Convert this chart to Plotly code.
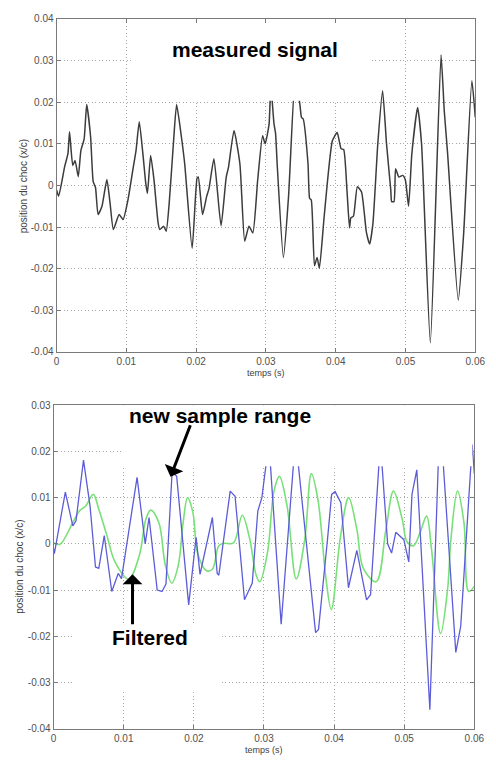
import plotly.graph_objects as go

# ---- measured shock position (full resolution) ----
t_meas = [0.0, 0.0003, 0.00116, 0.00163, 0.00186, 0.00232, 0.00265, 0.00311, 0.00349, 0.00395,
          0.00432, 0.00488, 0.00525, 0.00558, 0.00595, 0.00651, 0.00721, 0.00767, 0.00814, 0.00897,
          0.00953, 0.01023, 0.01092, 0.01139, 0.01185, 0.01241, 0.01278, 0.01302, 0.01348, 0.01395,
          0.01455, 0.01478, 0.01534, 0.01571, 0.01613, 0.01674, 0.0172, 0.0179, 0.01836, 0.01943,
          0.02013, 0.02031, 0.02092, 0.0215, 0.02185, 0.02255, 0.02357, 0.02431, 0.02464, 0.02543,
          0.02627, 0.02696, 0.02757, 0.02813, 0.02882, 0.02952, 0.02989, 0.03045, 0.0307, 0.03115,
          0.03138, 0.03161, 0.0325, 0.03324, 0.0342, 0.03487, 0.0351, 0.03533, 0.03603, 0.03626,
          0.0365, 0.03696, 0.03733, 0.03766, 0.03835, 0.03952, 0.04021, 0.04077, 0.04114, 0.04161,
          0.04198, 0.04217, 0.04254, 0.0431, 0.0437, 0.0444, 0.04486, 0.04533, 0.04603, 0.04672,
          0.04728, 0.04789, 0.04802, 0.04835, 0.04858, 0.04905, 0.0496, 0.04998, 0.05044, 0.05091,
          0.05174, 0.0523, 0.05356, 0.05509, 0.05556, 0.05602, 0.05756, 0.05834, 0.05951, 0.06]
x_meas = [-0.0011, -0.0026, 0.0045, 0.0076, 0.0129, 0.0048, 0.0060, 0.0021, 0.0084, 0.0111,
          0.0194, 0.0116, 0.0009, -0.0005, -0.0070, -0.0050, 0.0014, -0.0043, -0.0106, -0.0070,
          -0.0082, -0.0035, 0.0036, 0.0084, 0.0153, 0.0069, 0.0005, -0.0019, 0.0072, 0.0015,
          -0.0090, -0.0106, -0.0098, -0.0110, -0.0045, 0.0100, 0.0194, 0.0115, 0.0052, -0.0151,
          0.0017, 0.0020, -0.0070, -0.0027, -0.0007, 0.0064, -0.0097, 0.0020, 0.0044, 0.0132,
          0.0052, -0.0134, -0.0098, -0.0114, 0.0013, 0.0119, 0.0100, 0.0147, 0.0240, 0.0149,
          0.0125, 0.0052, -0.0173, -0.0027, 0.0260, 0.0194, 0.0163, 0.0160, 0.0052, -0.0031,
          -0.0035, -0.0193, -0.0173, -0.0199, -0.0074, 0.0107, 0.0127, 0.0088, 0.0086, -0.0011,
          -0.0102, -0.0078, -0.0074, -0.0003, -0.0016, -0.0113, -0.0141, -0.0092, 0.0100, 0.0227,
          0.0100, -0.0011, -0.0039, -0.0039, 0.0040, 0.0020, 0.0024, 0.0013, -0.0050, 0.0076,
          0.0187, 0.0100, -0.0378, 0.0313, 0.0178, 0.0080, -0.0276, -0.0114, 0.0251, 0.0163]

# ---- resampled signal (new sample range) ----
t_samp = [0.0, 0.0001, 0.00167, 0.00273, 0.00319, 0.00426, 0.00519, 0.00597, 0.00644, 0.00722,
          0.00829, 0.00921, 0.00968, 0.0119, 0.01306, 0.01361, 0.01477, 0.01546, 0.01602, 0.0169,
          0.01755, 0.01926, 0.02032, 0.02088, 0.02264, 0.02333, 0.02356, 0.02518, 0.02588, 0.02722,
          0.02833, 0.02912, 0.0297, 0.0307, 0.03245, 0.0345, 0.03736, 0.03778, 0.03907, 0.03965,
          0.04014, 0.04097, 0.04205, 0.04324, 0.04463, 0.0452, 0.0466, 0.04764, 0.0482, 0.0488,
          0.04995, 0.05065, 0.05111, 0.0518, 0.05366, 0.0551, 0.05736, 0.05806, 0.0597, 0.06]
x_samp = [-0.0011, -0.0021, 0.0112, 0.0039, 0.0050, 0.0181, 0.0082, -0.0050, -0.0053, 0.0018,
          -0.0103, -0.0064, -0.0075, 0.0144, 0.0000, 0.0057, -0.0100, -0.0103, -0.0087, 0.0156,
          0.0146, -0.0132, 0.0014, -0.0066, 0.0057, -0.0064, -0.0068, 0.0114, 0.0103, -0.0121,
          -0.0085, 0.0071, 0.0100, 0.0220, -0.0174, 0.0230, -0.0192, -0.0185, 0.0011, 0.0107,
          0.0113, 0.0089, -0.0095, -0.0014, -0.0121, -0.0110, 0.0220, 0.0000, -0.0020, 0.0025,
          0.0009, -0.0039, 0.0107, 0.0160, -0.0359, 0.0280, -0.0235, -0.0178, 0.0215, 0.0152]

# ---- filtered signal ----
t_filt = [0.0, 0.0009, 0.00273, 0.00366, 0.00458, 0.00565, 0.00644, 0.0076, 0.00875, 0.0107,
          0.01222, 0.01315, 0.01384, 0.0150, 0.01593, 0.01685, 0.01778, 0.01847, 0.0191, 0.01986,
          0.02056, 0.0218, 0.02264, 0.02356, 0.02426, 0.02565, 0.0269, 0.02796, 0.02889, 0.0294,
          0.03051, 0.03143, 0.0322, 0.03329, 0.0346, 0.03583, 0.03676, 0.03769, 0.03884, 0.0396,
          0.04093, 0.04208, 0.04324, 0.04417, 0.0460, 0.0474, 0.04847, 0.04972, 0.05042, 0.05134,
          0.05227, 0.0532, 0.05389, 0.05519, 0.0562, 0.05667, 0.0576, 0.05852, 0.0592, 0.06]
x_filt = [0.0002, -0.0001, 0.0046, 0.0071, 0.0082, 0.0107, 0.0075, 0.0018, -0.0039, -0.0076,
          -0.0025, 0.0053, 0.0073, 0.0046, -0.0046, -0.0085, -0.0046, 0.0046, 0.0100, 0.0068,
          -0.0022, -0.0058, -0.0055, -0.0004, 0.0001, 0.0002, 0.0062, 0.0011, -0.0068, -0.0082,
          -0.0018, 0.0114, 0.0146, 0.0082, -0.0076, 0.0011, 0.0152, 0.0096, -0.0075, -0.0142,
          0.0018, 0.0100, 0.0032, -0.0053, -0.0082, 0.0032, 0.0114, 0.0053, 0.0004, -0.0004,
          0.0025, 0.0060, -0.0011, -0.0194, -0.0096, 0.0011, 0.0114, 0.0046, -0.0103, -0.0092]

# ---- axis ticks ----
t_ticks = [0, 0.01, 0.02, 0.03, 0.04, 0.05, 0.06]
t_tick_text = ["0", "0.01", "0.02", "0.03", "0.04", "0.05", "0.06"]
pos_ticks_top = [-0.04, -0.03, -0.02, -0.01, 0, 0.01, 0.02, 0.03, 0.04]
pos_tick_text_top = ["-0.04", "-0.03", "-0.02", "-0.01", "0", "0.01", "0.02", "0.03", "0.04"]
pos_ticks_bot = [-0.04, -0.03, -0.02, -0.01, 0, 0.01, 0.02, 0.03]
pos_tick_text_bot = ["-0.04", "-0.03", "-0.02", "-0.01", "0", "0.01", "0.02", "0.03"]

FONT = "Liberation Sans, Arial, sans-serif"
AXIS_GREY = "#7a7a7a"
W, H = 496, 765

fig = go.Figure()
fig.add_trace(go.Scatter(x=t_meas, y=x_meas, mode="lines", xaxis="x", yaxis="y",
                         line=dict(color="#3c3c3c", width=1.5, shape="spline", smoothing=0.5),
                         showlegend=False))
fig.add_trace(go.Scatter(x=t_filt, y=x_filt, mode="lines", xaxis="x2", yaxis="y2",
                         line=dict(color="#78e078", width=1.6, shape="spline", smoothing=1.0),
                         showlegend=False))
fig.add_trace(go.Scatter(x=t_samp, y=x_samp, mode="lines", xaxis="x2", yaxis="y2",
                         line=dict(color="#5c5cd8", width=1.3), showlegend=False))


def axis_style(**kw):
    base = dict(
        showgrid=True, gridcolor="#a6a6a6", griddash="1px,2.5px", gridwidth=1,
        showline=True, linecolor=AXIS_GREY, linewidth=1, mirror="ticks",
        ticks="inside", ticklen=4, tickcolor=AXIS_GREY, tickwidth=1,
        tickfont=dict(family=FONT, size=10, color="#505050"),
        zeroline=False, fixedrange=True,
    )
    base.update(kw)
    return base


fig.update_layout(
    width=W, height=H, autosize=False,
    margin=dict(l=0, r=0, t=0, b=0),
    paper_bgcolor="white", plot_bgcolor="white",
    xaxis=axis_style(domain=[55 / W, 485 / W], anchor="y", range=[0, 0.06],
                     tickvals=t_ticks, ticktext=t_tick_text),
    yaxis=axis_style(domain=[414 / H, 752 / H], anchor="x", range=[-0.04, 0.04],
                     tickvals=pos_ticks_top, ticktext=pos_tick_text_top),
    xaxis2=axis_style(domain=[52 / W, 484 / W], anchor="y2", range=[0, 0.06],
                      tickvals=t_ticks, ticktext=t_tick_text),
    yaxis2=axis_style(domain=[31.7 / H, 360 / H], anchor="x2", range=[-0.04, 0.03],
                      tickvals=pos_ticks_bot, ticktext=pos_tick_text_bot),
)

# axis titles, placed in figure pixels
x_title_font = dict(family=FONT, size=9, color="#404040")
y_title_font = dict(family=FONT, size=10, color="#404040")
for px, py in [(270, 372), (268, 755)]:
    fig.add_annotation(x=px / W, y=1 - py / H, xref="paper", yref="paper", text="temps (s)",
                       showarrow=False, font=x_title_font, xanchor="center", yanchor="middle")
for px, py in [(20.5, 182), (17.5, 569)]:
    fig.add_annotation(x=px / W, y=1 - py / H, xref="paper", yref="paper",
                       text="position du choc (x/c)", textangle=-90, showarrow=False,
                       font=y_title_font, xanchor="center", yanchor="middle")

# white label panels laid over the curves
panels = [
    ("x", "y", 0.0109, 0.0451, 0.0203, 0.0385),
    ("x2", "y2", 0.00986, 0.05972, 0.0168, 0.0312),
    ("x2", "y2", 0.00278, 0.02375, -0.0316, -0.0171),
]
for xr, yr, x0, x1, y0, y1 in panels:
    fig.add_shape(type="rect", xref=xr, yref=yr, x0=x0, x1=x1, y0=y0, y1=y1,
                  fillcolor="white", line=dict(width=0), layer="above")

label_font = dict(family=FONT, size=21, color="black")
fig.add_annotation(x=0.02845, y=0.0327, xref="x", yref="y", text="<b>measured signal</b>",
                   showarrow=False, font=label_font)
fig.add_annotation(x=0.02375, y=0.0277, xref="x2", yref="y2", text="<b>new sample range</b>",
                   showarrow=False, font=label_font)
fig.add_annotation(x=0.01375, y=-0.0203, xref="x2", yref="y2", text="<b>Filtered</b>",
                   showarrow=False, font=label_font)

# pointer arrows
fig.add_annotation(x=0.01667, y=0.0145, ax=0.01958, ay=0.0260, xref="x2", yref="y2",
                   axref="x2", ayref="y2", text="", showarrow=True, arrowhead=1,
                   arrowsize=1.1, arrowwidth=3, arrowcolor="black", standoff=0)
fig.add_annotation(x=0.01125, y=-0.0066, ax=0.01125, ay=-0.0177, xref="x2", yref="y2",
                   axref="x2", ayref="y2", text="", showarrow=True, arrowhead=1,
                   arrowsize=1.1, arrowwidth=3, arrowcolor="black", standoff=0)

fig.write_html("out.html")
